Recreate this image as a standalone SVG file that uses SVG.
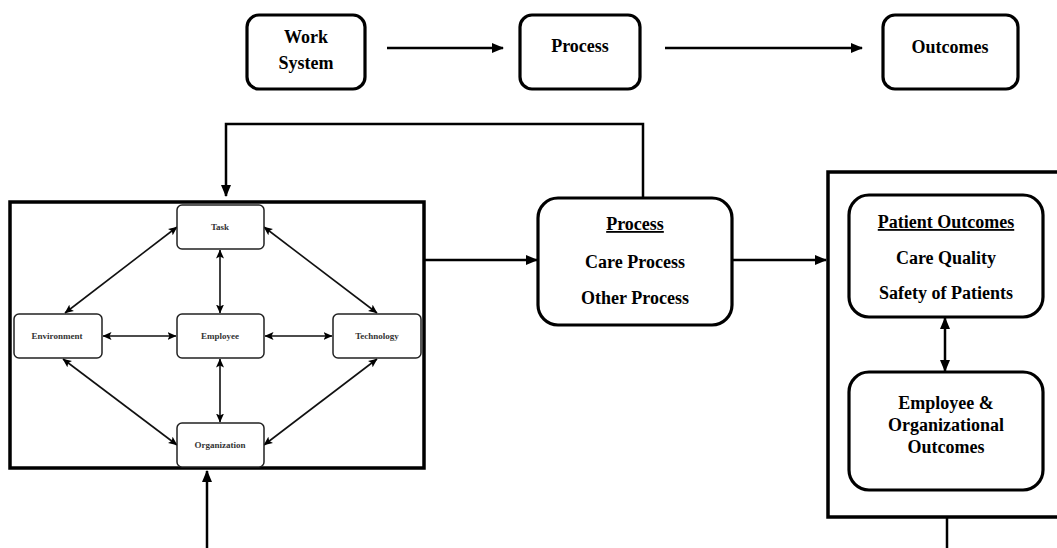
<svg xmlns="http://www.w3.org/2000/svg" width="1057" height="548" viewBox="0 0 1057 548">
<style>
.big{fill:#fff;stroke:#000;stroke-width:3.2}
.frame{fill:none;stroke:#000;stroke-width:3.5}
.small{fill:#fff;stroke:#222;stroke-width:1.5}
.t{font-family:"Liberation Serif","Times New Roman",serif;font-weight:bold;font-size:18px;fill:#000;text-anchor:middle}
.s{font-family:"Liberation Serif","Times New Roman",serif;font-weight:bold;font-size:9px;fill:#333;text-anchor:middle}
.c{fill:none;stroke:#000;stroke-width:2.5}
.ci{fill:none;stroke:#111;stroke-width:1.6}
</style>
<defs>
<marker id="ah" markerUnits="userSpaceOnUse" markerWidth="12" markerHeight="10" refX="11" refY="5" orient="auto-start-reverse"><path d="M0,0 L12,5 L0,10 z" fill="#000"/></marker>
<marker id="ai" markerUnits="userSpaceOnUse" markerWidth="9" markerHeight="8" refX="8.5" refY="4" orient="auto-start-reverse"><path d="M0,0 L9,4 L0,8 L2,4 z" fill="#000"/></marker>
</defs>
<g id="connectors">
<line class="c" x1="387" y1="48" x2="503" y2="48" marker-end="url(#ah)"/>
<line class="c" x1="665" y1="48" x2="862" y2="48" marker-end="url(#ah)"/>
<polyline class="c" points="643,198 643,124 226,124 226,196" marker-end="url(#ah)"/>
<line class="c" x1="424" y1="260" x2="537" y2="260" marker-end="url(#ah)"/>
<line class="c" x1="732" y1="260" x2="826" y2="260" marker-end="url(#ah)"/>
<line class="c" x1="207" y1="548" x2="207" y2="471" marker-end="url(#ah)"/>
<line class="c" x1="947" y1="517" x2="947" y2="548"/>
<line class="c" x1="945" y1="318" x2="945" y2="371" marker-start="url(#ah)" marker-end="url(#ah)"/>
<line class="ci" x1="220" y1="250" x2="220" y2="313" marker-start="url(#ai)" marker-end="url(#ai)"/>
<line class="ci" x1="220" y1="359" x2="220" y2="422" marker-start="url(#ai)" marker-end="url(#ai)"/>
<line class="ci" x1="103" y1="336" x2="176" y2="336" marker-start="url(#ai)" marker-end="url(#ai)"/>
<line class="ci" x1="265" y1="336" x2="332" y2="336" marker-start="url(#ai)" marker-end="url(#ai)"/>
<line class="ci" x1="177" y1="227" x2="65" y2="313" marker-start="url(#ai)" marker-end="url(#ai)"/>
<line class="ci" x1="264" y1="227" x2="377" y2="313" marker-start="url(#ai)" marker-end="url(#ai)"/>
<line class="ci" x1="63" y1="359" x2="177" y2="445" marker-start="url(#ai)" marker-end="url(#ai)"/>
<line class="ci" x1="377" y1="359" x2="264" y2="445" marker-start="url(#ai)" marker-end="url(#ai)"/>
</g>
<g id="work-system"><rect class="big" x="247" y="15" width="118" height="74" rx="12"/><text class="t" x="306" y="43">Work</text><text class="t" x="306" y="69">System</text></g>
<g id="process-top"><rect class="big" x="520" y="15" width="120" height="74" rx="12"/><text class="t" x="580" y="52">Process</text></g>
<g id="outcomes-top"><rect class="big" x="883" y="15" width="135" height="74" rx="12"/><text class="t" x="950" y="53">Outcomes</text></g>
<g id="work-system-frame"><rect class="frame" x="10" y="202" width="414" height="266"/></g>
<g id="task"><rect class="small" x="177" y="205" width="87" height="44" rx="5"/><text class="s" x="220" y="230">Task</text></g>
<g id="employee"><rect class="small" x="177" y="314" width="87" height="44" rx="5"/><text class="s" x="220" y="339">Employee</text></g>
<g id="environment"><rect class="small" x="14" y="314" width="88" height="44" rx="5"/><text class="s" x="57" y="339">Environment</text></g>
<g id="technology"><rect class="small" x="333" y="314" width="88" height="44" rx="5"/><text class="s" x="377" y="339">Technology</text></g>
<g id="organization"><rect class="small" x="177" y="423" width="87" height="44" rx="5"/><text class="s" x="220" y="448">Organization</text></g>
<g id="process"><rect class="big" x="538" y="198" width="194" height="127" rx="20"/><text class="t" x="635" y="230" text-decoration="underline">Process</text><text class="t" x="635" y="268">Care Process</text><text class="t" x="635" y="304">Other Process</text></g>
<g id="outcomes-frame"><rect class="frame" x="828" y="172" width="240" height="345"/></g>
<g id="patient-outcomes"><rect class="big" x="849" y="195" width="194" height="122" rx="20"/><text class="t" x="946" y="228" text-decoration="underline">Patient Outcomes</text><text class="t" x="946" y="264">Care Quality</text><text class="t" x="946" y="299">Safety of Patients</text></g>
<g id="employee-org-outcomes"><rect class="big" x="849" y="372" width="194" height="118" rx="20"/><text class="t" x="946" y="409">Employee &amp;</text><text class="t" x="946" y="431">Organizational</text><text class="t" x="946" y="453">Outcomes</text></g>
</svg>
